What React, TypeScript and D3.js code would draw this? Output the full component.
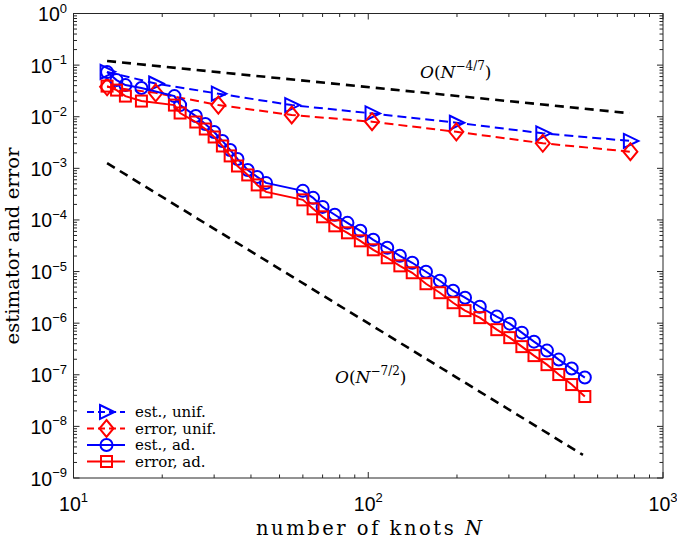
import React from "react";
import * as d3 from "d3";

const N_UNIF = [13, 19, 31, 55, 103, 199, 391, 775];
const EST_UNIF = [0.074, 0.044, 0.028, 0.0168, 0.0116, 0.00765, 0.00477, 0.00339];
const ERR_UNIF = [0.038, 0.029, 0.0168, 0.0108, 0.008, 0.0051, 0.00306, 0.0021];

const N_AD = [13, 14, 15, 17, 22, 23, 26, 28, 30, 32, 34, 36, 39, 42, 45, 60, 65, 70, 77, 85, 94, 104, 116, 128, 141, 157, 175, 194, 213, 239, 273, 302, 332, 365, 404, 443, 490, 543];
const EST_AD = [0.0732, 0.0513, 0.041, 0.0359, 0.0251, 0.0168, 0.0103, 0.00722, 0.00506, 0.00339, 0.00227, 0.00152, 0.000931, 0.000682, 0.000522, 0.000366, 0.000268, 0.000179, 0.000126, 8.79e-5, 6.16e-5, 4.12e-5, 2.89e-5, 2.02e-5, 1.48e-5, 9.91e-6, 6.64e-6, 4.26e-6, 3.11e-6, 2.08e-6, 1.34e-6, 9.78e-7, 6.55e-7, 4.38e-7, 2.94e-7, 1.97e-7, 1.32e-7, 8.83e-8];
const ERR_AD = [0.0392, 0.0328, 0.0251, 0.0201, 0.0168, 0.0118, 0.00789, 0.00578, 0.00405, 0.00271, 0.00174, 0.00111, 0.000745, 0.000477, 0.00035, 0.000245, 0.000164, 0.000115, 7.69e-5, 5.63e-5, 3.94e-5, 2.64e-5, 1.85e-5, 1.29e-5, 9.48e-6, 5.81e-6, 3.89e-6, 2.49e-6, 1.75e-6, 1.28e-6, 7.48e-7, 5.24e-7, 3.51e-7, 2.35e-7, 1.57e-7, 1.01e-7, 6.46e-8, 3.79e-8];

const REF_SLOW_N = [13, 770];
const REF_SLOW = [0.12, 0.0117];
const REF_FAST_N = [13, 535];
const REF_FAST = [1.26e-3, 2.8e-9];

const X_MAJOR = [10, 100, 1000];
const X_MAJOR_EXP = ["1", "2", "3"];
const Y_MAJOR_EXP = [0, -1, -2, -3, -4, -5, -6, -7, -8, -9];

const LEGEND_LABELS = ["est., unif.", "error, unif.", "est., ad.", "error, ad."];

const BLUE = "#0000ff";
const RED = "#ff0000";

const L = 73.5, R = 663, T = 13.5, B = 478;

const x = d3.scaleLog().domain([10, 1000]).range([L, R]);
const y = d3.scaleLog().domain([1e-9, 1]).range([B, T]);

const TRI = "M-6.5,-7L8,0L-6.5,7Z";
const DIA = "M0,-8.5L7,0L0,8.5L-7,0Z";

function Marker({ kind, cx, cy, color }: { kind: string; cx: number; cy: number; color: string }) {
  const common = { fill: "none", stroke: color, strokeWidth: 2 };
  if (kind === "tri") return <path d={TRI} transform={`translate(${cx},${cy})`} {...common} />;
  if (kind === "dia") return <path d={DIA} transform={`translate(${cx},${cy})`} {...common} />;
  if (kind === "circ") return <circle cx={cx} cy={cy} r={6} {...common} />;
  return <rect x={cx - 5.5} y={cy - 5.5} width={11} height={11} {...common} />;
}

export default function App() {
  const line = d3.line<[number, number]>().x((d) => x(d[0])).y((d) => y(d[1]));
  const series = [
    { n: N_UNIF, v: EST_UNIF, color: BLUE, dash: "9,5", kind: "tri" },
    { n: N_UNIF, v: ERR_UNIF, color: RED, dash: "9,5", kind: "dia" },
    { n: N_AD, v: EST_AD, color: BLUE, dash: null, kind: "circ" },
    { n: N_AD, v: ERR_AD, color: RED, dash: null, kind: "sq" },
  ];

  const xMinor: number[] = [];
  [10, 100].forEach((b) => { for (let k = 2; k <= 9; k++) xMinor.push(b * k); });
  const yMinor: number[] = [];
  for (let e = -9; e < 0; e++) for (let k = 2; k <= 9; k++) yMinor.push(k * Math.pow(10, e));

  const axisColor = "#262626";
  const tickFont = "'Liberation Sans', Arial, sans-serif";
  const serif = "'DejaVu Serif', serif";

  return (
    <svg width={677} height={540} style={{ position: "absolute", left: 0, top: 0, background: "#fff" }}>
      <path d={line(REF_SLOW_N.map((n, i) => [n, REF_SLOW[i]]) as any) || ""} stroke="#000" strokeWidth={2.6} strokeDasharray="9,6" fill="none" />
      <path d={line(REF_FAST_N.map((n, i) => [n, REF_FAST[i]]) as any) || ""} stroke="#000" strokeWidth={2.6} strokeDasharray="9,6" fill="none" />

      {series.map((s, si) => (
        <g key={si}>
          <path d={line(s.n.map((n, i) => [n, s.v[i]]) as any) || ""} stroke={s.color} strokeWidth={2} fill="none" strokeDasharray={s.dash || undefined} />
          {s.n.map((n, i) => (
            <Marker key={i} kind={s.kind} cx={x(n)} cy={y(s.v[i])} color={s.color} />
          ))}
        </g>
      ))}

      <rect x={L} y={T} width={R - L} height={B - T} fill="none" stroke={axisColor} strokeWidth={1} />
      {X_MAJOR.map((v) => (
        <g key={"xm" + v}>
          <line x1={x(v)} x2={x(v)} y1={B} y2={B - 6} stroke={axisColor} />
          <line x1={x(v)} x2={x(v)} y1={T} y2={T + 6} stroke={axisColor} />
        </g>
      ))}
      {xMinor.map((v) => (
        <g key={"xn" + v}>
          <line x1={x(v)} x2={x(v)} y1={B} y2={B - 3.5} stroke={axisColor} />
          <line x1={x(v)} x2={x(v)} y1={T} y2={T + 3.5} stroke={axisColor} />
        </g>
      ))}
      {Y_MAJOR_EXP.map((e) => (
        <g key={"ym" + e}>
          <line x1={L} x2={L + 6} y1={y(Math.pow(10, e))} y2={y(Math.pow(10, e))} stroke={axisColor} />
          <line x1={R} x2={R - 6} y1={y(Math.pow(10, e))} y2={y(Math.pow(10, e))} stroke={axisColor} />
        </g>
      ))}
      {yMinor.map((v, i) => (
        <g key={"yn" + i}>
          <line x1={L} x2={L + 3.5} y1={y(v)} y2={y(v)} stroke={axisColor} />
          <line x1={R} x2={R - 3.5} y1={y(v)} y2={y(v)} stroke={axisColor} />
        </g>
      ))}

      {X_MAJOR.map((v, i) => (
        <text key={"xl" + v} x={x(v)} y={511} textAnchor="middle" fontFamily={tickFont} fontSize={19.5} fill="#000">
          10<tspan dy={-9} fontSize={13}>{X_MAJOR_EXP[i]}</tspan>
        </text>
      ))}
      {Y_MAJOR_EXP.map((e) => (
        <text key={"yl" + e} x={67} y={y(Math.pow(10, e)) + 7.5} textAnchor="end" fontFamily={tickFont} fontSize={19.5} fill="#000">
          10<tspan dy={-8.5} fontSize={13}>{e === 0 ? "0" : "\u2212" + Math.abs(e)}</tspan>
        </text>
      ))}

      <text x={369} y={535} textAnchor="middle" fontFamily={serif} fontSize={19.5} textLength={226} lengthAdjust="spacing" fill="#000">
        number of knots <tspan fontStyle="italic">N</tspan>
      </text>
      <text transform={`translate(19,246) rotate(-90)`} textAnchor="middle" fontFamily={serif} fontSize={19} textLength={197} lengthAdjust="spacingAndGlyphs" fill="#000">
        estimator and error
      </text>

      <text x={420} y={78} fontFamily={serif} fontSize={17} fill="#000">
        <tspan fontStyle="italic">O</tspan>(<tspan fontStyle="italic">N</tspan>
        <tspan dy={-8} fontSize={12}>{"\u22124/7"}</tspan>
        <tspan dy={8}>)</tspan>
      </text>
      <text x={335} y={383} fontFamily={serif} fontSize={17} fill="#000">
        <tspan fontStyle="italic">O</tspan>(<tspan fontStyle="italic">N</tspan>
        <tspan dy={-8} fontSize={12}>{"\u22127/2"}</tspan>
        <tspan dy={8}>)</tspan>
      </text>

      {series.map((s, i) => {
        const ly = 412 + i * 16.5;
        return (
          <g key={"lg" + i}>
            <line x1={87} x2={125} y1={ly} y2={ly} stroke={s.color} strokeWidth={2} strokeDasharray={s.dash ? "7,4" : undefined} />
            <Marker kind={s.kind} cx={106.5} cy={ly} color={s.color} />
            <text x={135} y={ly + 5} fontFamily={serif} fontSize={15} fill="#000">{LEGEND_LABELS[i]}</text>
          </g>
        );
      })}
    </svg>
  );
}
